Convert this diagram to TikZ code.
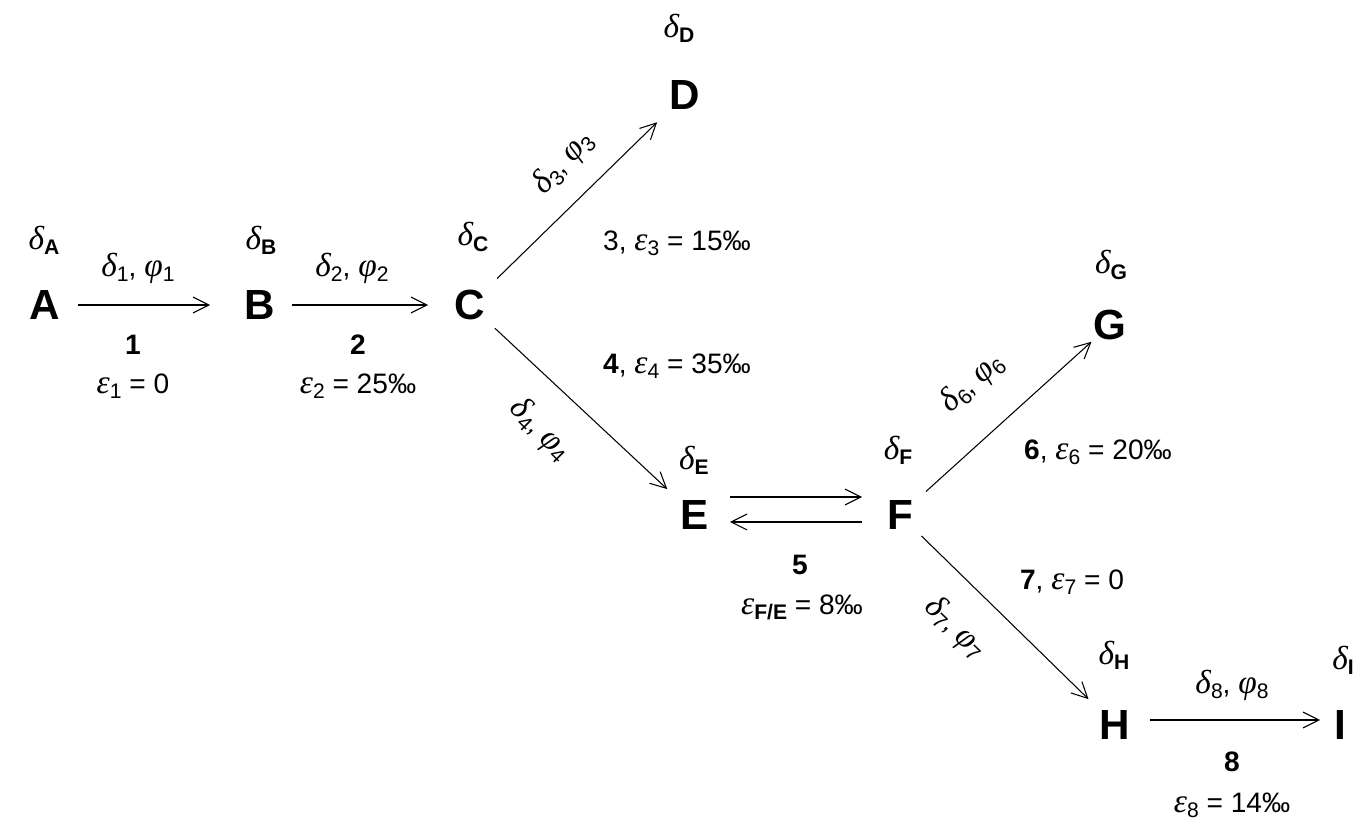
\documentclass[tikz,border=0pt]{standalone}
\usepackage{fontspec}
\setmainfont{Liberation Sans}
\newfontfamily\grk{Liberation Serif}
\usetikzlibrary{arrows.meta}
\newcommand\gs[2]{{\fontsize{19}{20}\selectfont\grk\itshape #1}\raisebox{-0.35ex}{\fontsize{12}{13}\selectfont #2}}
\begin{document}
\begin{tikzpicture}[x=0.02cm,y=-0.02cm,
  big/.style={font=\fontsize{24}{28}\selectfont\bfseries},
  lab/.style={font=\fontsize{16}{19}\selectfont},
  blab/.style={font=\fontsize{16}{19}\selectfont\bfseries},
  arr/.style={-{Straight Barb[length=9pt,width=9pt]},line width=0.6pt}]
\useasboundingbox (0,0) rectangle (1366,834);
\node[big] (A) at (45,305) {A};
\node[big] (B) at (260,305) {B};
\node[big] (C) at (470,305) {C};
\node[big] (D) at (685,95) {D};
\node[big] (E) at (695,515) {E};
\node[big] (F) at (900,515) {F};
\node[big] (G) at (1110,325) {G};
\node[big] (H) at (1115,725) {H};
\node[big] (I) at (1340,725) {I};
% deltas
\node[lab] (dA) at (44,240) {\gs{δ}{\textbf{A}}};
\node[lab] (dB) at (261,240) {\gs{δ}{\textbf{B}}};
\node[lab] (dC) at (473,237) {\gs{δ}{\textbf{C}}};
\node[lab] (dD) at (679,28) {\gs{δ}{\textbf{D}}};
\node[lab] (dE) at (694,460) {\gs{δ}{\textbf{E}}};
\node[lab] (dF) at (898,450) {\gs{δ}{\textbf{F}}};
\node[lab] (dG) at (1111,265) {\gs{δ}{\textbf{G}}};
\node[lab] (dH) at (1114,655) {\gs{δ}{\textbf{H}}};
\node[lab] (dI) at (1343,660) {\gs{δ}{\textbf{I}}};
% arrows
\draw[arr,shorten <=0.66cm,shorten >=1.0cm] (A.center) -- (B.center);
\draw[arr,shorten <=0.64cm,shorten >=0.84cm] (B.center) -- (C.center);
\draw[arr,shorten <=0.76cm,shorten >=0.78cm] (C.center) -- (D.center);
\draw[arr,shorten <=0.68cm,shorten >=0.76cm] (C.center) -- (E.center);
\draw[arr,shorten <=0.7cm,shorten >=0.76cm] ([yshift=0.36cm]E.center) -- ([yshift=0.36cm]F.center);
\draw[arr,shorten <=0.76cm,shorten >=0.7cm] ([yshift=-0.14cm]F.center) -- ([yshift=-0.14cm]E.center);
\draw[arr,shorten <=0.7cm,shorten >=0.5cm] (F.center) -- (G.center);
\draw[arr,shorten <=0.6cm,shorten >=0.74cm] (F.center) -- (H.center);
\draw[arr,shorten <=0.7cm,shorten >=0.4cm] ([yshift=0.1cm]H.center) -- ([yshift=0.1cm]I.center);
% labels
\node[lab] (l1a) at (138,268) {\gs{δ}{1}, \gs{φ}{1}};
\node[blab] (l1b) at (133,345) {1};
\node[lab] (l1c) at (133,386) {\gs{ε}{1} = 0};
\node[lab] (l2a) at (352,268) {\gs{δ}{2}, \gs{φ}{2}};
\node[blab] (l2b) at (358,345) {2};
\node[lab] (l2c) at (358,386) {\gs{ε}{2} = 25‰};
\node[lab,rotate=47] (l3a) at (563,163) {\gs{δ}{3}, \gs{φ}{3}};
\node[lab] (l3b) at (677,243) {3, \gs{ε}{3} = 15‰};
\node[lab] (l4b) at (677,366) {\textbf{4}, \gs{ε}{4} = 35‰};
\node[lab,rotate=-45] (l4a) at (540,430) {\gs{δ}{4}, \gs{φ}{4}};
\node[blab] (l5a) at (800,565) {5};
\node[lab] (l5b) at (802,607) {\gs{ε}{\textbf{F/E}} = 8‰};
\node[lab,rotate=42] (l6a) at (972,383) {\gs{δ}{6}, \gs{φ}{6}};
\node[lab] (l6b) at (1098,452) {\textbf{6}, \gs{ε}{6} = 20‰};
\node[lab] (l7b) at (1072,582) {\textbf{7}, \gs{ε}{7} = 0};
\node[lab,rotate=-44] (l7a) at (955,628) {\gs{δ}{7}, \gs{φ}{7}};
\node[lab] (l8a) at (1232,685) {\gs{δ}{8}, \gs{φ}{8}};
\node[blab] (l8b) at (1232,762) {8};
\node[lab] (l8c) at (1232,805) {\gs{ε}{8} = 14‰};
\end{tikzpicture}
\end{document}
